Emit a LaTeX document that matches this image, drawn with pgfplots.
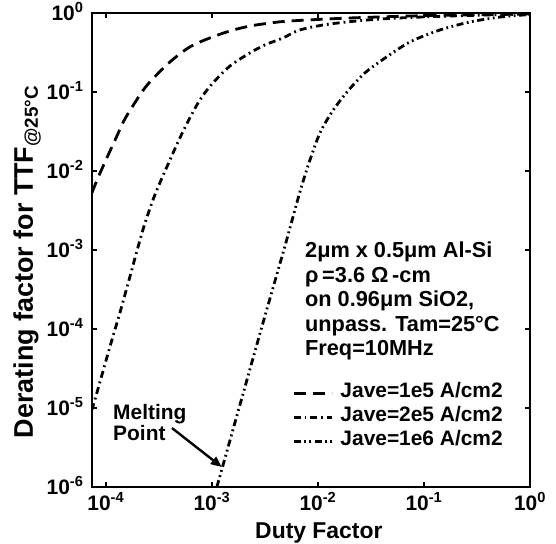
\documentclass[border=0pt]{standalone}
\usepackage{fontspec}
\setmainfont{Liberation Sans}
\usepackage{pgfplots}
\pgfplotsset{compat=1.18}
\usetikzlibrary{arrows.meta}
\begin{document}
\begin{tikzpicture}
\begin{axis}[
    scale only axis,
    width=438bp, height=474bp,
    xmode=log, ymode=log,
    xmin=7.4e-5, xmax=1, ymin=1e-6, ymax=1,
    xminorticks=false, yminorticks=false,
    axis line style={line width=2.2bp},
    every tick/.style={black, line width=1.4bp},
    major tick length=5bp,
    tick align=inside,
    xtick={1e-4,1e-3,1e-2,1e-1,1},
    xticklabels={10\textsuperscript{-4},10\textsuperscript{-3},10\textsuperscript{-2},10\textsuperscript{-1},10\textsuperscript{0}},
    ytick={1e-6,1e-5,1e-4,1e-3,1e-2,1e-1,1},
    yticklabels={10\textsuperscript{-6},10\textsuperscript{-5},10\textsuperscript{-4},10\textsuperscript{-3},10\textsuperscript{-2},10\textsuperscript{-1},10\textsuperscript{0}},
    tick label style={font=\fontsize{21}{21}\selectfont\bfseries},
    xticklabel style={anchor=base, yshift=-23bp},
    yticklabel style={anchor=base east, xshift=-5bp, yshift=-7bp},
    xlabel={Duty Factor},
    ylabel={Derating factor for TTF\textsubscript{@25°C}},
    every axis x label/.style={at={(rel axis cs:0.518,-0.108)}, anchor=base,
        font=\fontsize{23}{23}\selectfont\bfseries},
    every axis y label/.style={at={(rel axis cs:-0.1347,0.475)}, rotate=90, anchor=base,
        font=\fontsize{27}{27}\selectfont\bfseries},
    legend style={draw=none, fill=none, at={(rel axis cs:0.4566,0.2236)}, anchor=north west,
        font=\fontsize{21}{21}\selectfont\bfseries, inner sep=0pt, column sep=7bp,
        nodes={inner sep=0.5bp, text height=16bp, text depth=7bp}},
    legend cell align=left,
    legend image code/.code={\draw[#1] (0bp,0bp) -- (38bp,0bp);},
]
% Jave=1e5
\addplot[black, line width=2.8bp, smooth, dash pattern=on 12bp off 7bp] coordinates {
    (7.38e-5,5.27e-3) (8.41e-5,8.15e-3) (1.021e-4,1.462e-2) (1.271e-4,2.77e-2)
    (1.510e-4,4.55e-2) (2.094e-4,9.16e-2) (2.60e-4,0.134) (4.02e-4,0.240)
    (6.19e-4,0.372) (9.57e-4,0.483) (1.479e-3,0.592) (2.28e-3,0.684)
    (3.52e-3,0.746) (5.44e-3,0.792) (2.00e-2,0.865) (0.114,0.929) (1,0.971)
};
\addlegendentry{Jave=1e5 A/cm2}
% Jave=2e5
\addplot[black, line width=2.8bp, smooth, dash pattern=on 7bp off 4bp on 1.8bp off 4bp] coordinates {
    (7.38e-5,9.44e-6) (8.22e-5,1.549e-5) (1.091e-4,5.92e-5) (1.355e-4,1.596e-4)
    (1.683e-4,4.55e-4) (2.234e-4,1.791e-3) (2.897e-4,4.97e-3) (4.02e-4,1.377e-2)
    (4.99e-4,2.62e-2) (6.19e-4,4.69e-2) (7.71e-4,7.93e-2) (1.0e-3,0.126)
    (1.479e-3,0.213) (2.28e-3,0.312) (3.16e-3,0.394) (4.68e-3,0.483)
    (6.76e-3,0.610) (1.297e-2,0.726) (3.85e-2,0.839) (0.176,0.916) (1,0.971)
};
\addlegendentry{Jave=2e5 A/cm2}
% Jave=1e6
\addplot[black, line width=2.8bp, smooth, dash pattern=on 7bp off 3.5bp on 1.8bp off 3.5bp on 1.8bp off 3.5bp] coordinates {
    (1.114e-3,1e-6) (1.837e-3,1.091e-5) (3.03e-3,1.191e-4) (4.89e-3,1.125e-3)
    (6.76e-3,5.42e-3) (8.41e-3,1.377e-2) (1.045e-2,3.03e-2) (1.355e-2,5.58e-2)
    (1.879e-2,0.1) (2.77e-2,0.174) (4.29e-2,0.269) (7.38e-2,0.430)
    (0.1416,0.610) (0.2716,0.769) (0.521,0.889) (1,0.957)
};
\addlegendentry{Jave=1e6 A/cm2}

\node[anchor=north west, align=left, inner sep=0pt,
      font=\fontsize{21.8}{24.5}\selectfont\bfseries]
    at (rel axis cs:0.4863,0.5169)
    {2μm x 0.5μm Al-Si\\ρ\,=3.6 Ω\,-cm\\on 0.96μm SiO2,\\unpass. Tam=25°C\\Freq=10MHz};
\node[anchor=north west, align=left, inner sep=0pt,
      font=\fontsize{21}{18}\selectfont\bfseries]
    at (rel axis cs:0.048,0.174) {Melting\\Point};
\draw[line width=2.4bp, -{Triangle[length=11bp, width=9bp]}]
    (axis cs:4.2e-4,5.58e-6) -- (axis cs:1.24e-3,1.79e-6);
\end{axis}
\pgfresetboundingbox
\path (-92bp,-57bp) rectangle (464bp,487bp);
\end{tikzpicture}
\end{document}
